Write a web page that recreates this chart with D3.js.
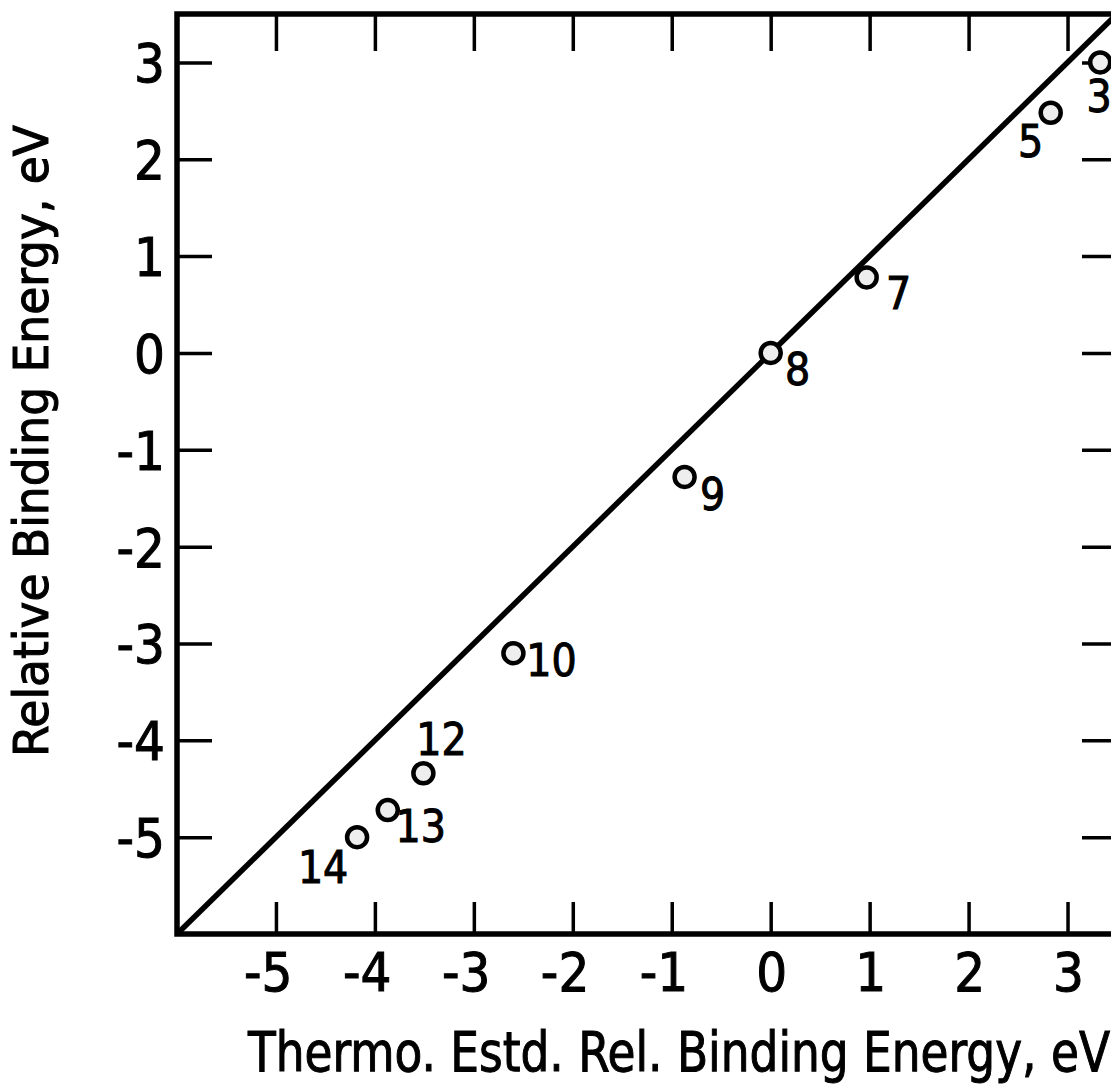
<!DOCTYPE html>
<html lang="en">
<head>
<meta charset="utf-8">
<title>Relative Binding Energy</title>
<script src="https://cdn.jsdelivr.net/npm/d3@7"></script>
<style>
  body { margin: 0; background: #fff; }
  svg { display: block; }
  text { font-family: "DejaVu Sans Condensed", "DejaVu Sans", sans-serif; fill: #000; stroke: #000; stroke-width: 1px; }
  .axis path.domain { display: none; }
  .axis line { stroke: #000; stroke-width: 3.5px; }
  .frame { fill: none; stroke: #000; stroke-width: 5.5px; }
  .fit { fill: none; stroke: #000; stroke-width: 5.5px; }
  .pt { fill: #eeeeee; stroke: #000; stroke-width: 4.5px; }
</style>
</head>
<body>
<svg width="1111" height="1085"></svg>
<script>
// data
var ids      = ["3", "5", "7", "8", "9", "10", "12", "13", "14"];
var thermo   = [3.33, 2.83, 0.97, 0.0, -0.87, -2.60, -3.51, -3.87, -4.18];
var relative = [3.00, 2.48, 0.78, 0.0, -1.28, -3.10, -4.34, -4.72, -5.00];
var fitLine  = [-6, 3.5];           // y = x line end values
var xTicks   = [-5, -4, -3, -2, -1, 0, 1, 2, 3];
var yTicks   = [-5, -4, -3, -2, -1, 0, 1, 2, 3];
var xTitle   = "Thermo. Estd. Rel. Binding Energy, eV";
var yTitle   = "Relative Binding Energy, eV";

// label placement next to each point (pixels), kept apart from the data
var labelPos = {
  "3":  [-1, 50],  "5":  [-20, 44], "7":  [32, 32],
  "8":  [27, 32],  "9":  [28, 33],  "10": [38, 23],
  "12": [18, -18], "13": [33, 32],  "14": [-34, 46]
};

var svg = d3.select("svg");
var plotL = 177, plotR = 1117, plotT = 14, plotB = 934;

var x = d3.scaleLinear().domain([-6, 3.5]).range([plotL, plotR]);
var y = d3.scaleLinear().domain([-6, 3.5]).range([plotB, plotT]);

var fmt = function(d) { return d < 0 ? "-" + Math.abs(d) : String(d); };

// bottom axis with labels
var gx = svg.append("g")
    .attr("class", "axis")
    .attr("transform", "translate(0," + plotB + ")")
    .call(d3.axisBottom(x).tickValues(xTicks).tickSizeInner(-32).tickSizeOuter(0).tickPadding(19).tickFormat(fmt));
gx.selectAll("text")
    .attr("x", 16)
    .attr("text-anchor", "end")
    .style("font-size", "54px");

// top axis, ticks only
svg.append("g")
    .attr("class", "axis")
    .attr("transform", "translate(0," + plotT + ")")
    .call(d3.axisTop(x).tickValues(xTicks).tickSizeInner(-37).tickSizeOuter(0).tickFormat(""));

// left axis with labels
var gy = svg.append("g")
    .attr("class", "axis")
    .attr("transform", "translate(" + plotL + ",0)")
    .call(d3.axisLeft(y).tickValues(yTicks).tickSizeInner(-35).tickSizeOuter(0).tickPadding(12).tickFormat(fmt));
gy.selectAll("text")
    .attr("dy", "0.36em")
    .style("font-size", "54px");

// right axis, ticks only
svg.append("g")
    .attr("class", "axis")
    .attr("transform", "translate(" + plotR + ",0)")
    .call(d3.axisRight(y).tickValues(yTicks).tickSizeInner(-35).tickSizeOuter(0).tickFormat(""));

svg.selectAll(".axis").attr("font-family", null).attr("font-size", null);

// frame
svg.append("rect")
    .attr("class", "frame")
    .attr("x", x(-6)).attr("y", y(3.5))
    .attr("width", x(3.5) - x(-6))
    .attr("height", y(-6) - y(3.5));

// y = x line
var line = d3.line()
    .x(function(d) { return x(d); })
    .y(function(d) { return y(d); });

svg.append("path")
    .datum(fitLine)
    .attr("class", "fit")
    .attr("d", line);

// points
var pts = ids.map(function(id, i) {
  return {id: id, tx: thermo[i], ry: relative[i]};
});

var g = svg.selectAll(".point")
    .data(pts)
    .enter().append("g")
    .attr("class", "point")
    .attr("transform", function(d) { return "translate(" + x(d.tx) + "," + y(d.ry) + ")"; });

g.append("circle")
    .attr("class", "pt")
    .attr("r", 10);

g.append("text")
    .attr("x", function(d) { return labelPos[d.id][0]; })
    .attr("y", function(d) { return labelPos[d.id][1]; })
    .attr("text-anchor", "middle")
    .style("font-size", "44px")
    .text(function(d) { return d.id; });

// axis titles
svg.append("text")
    .attr("x", 248)
    .attr("y", 1071)
    .attr("textLength", 862)
    .attr("lengthAdjust", "spacingAndGlyphs")
    .style("font-size", "56px")
    .text(xTitle);

svg.append("text")
    .attr("transform", "translate(48,441) rotate(-90)")
    .attr("text-anchor", "middle")
    .attr("textLength", 632)
    .attr("lengthAdjust", "spacingAndGlyphs")
    .style("font-size", "48px")
    .text(yTitle);
</script>
</body>
</html>
